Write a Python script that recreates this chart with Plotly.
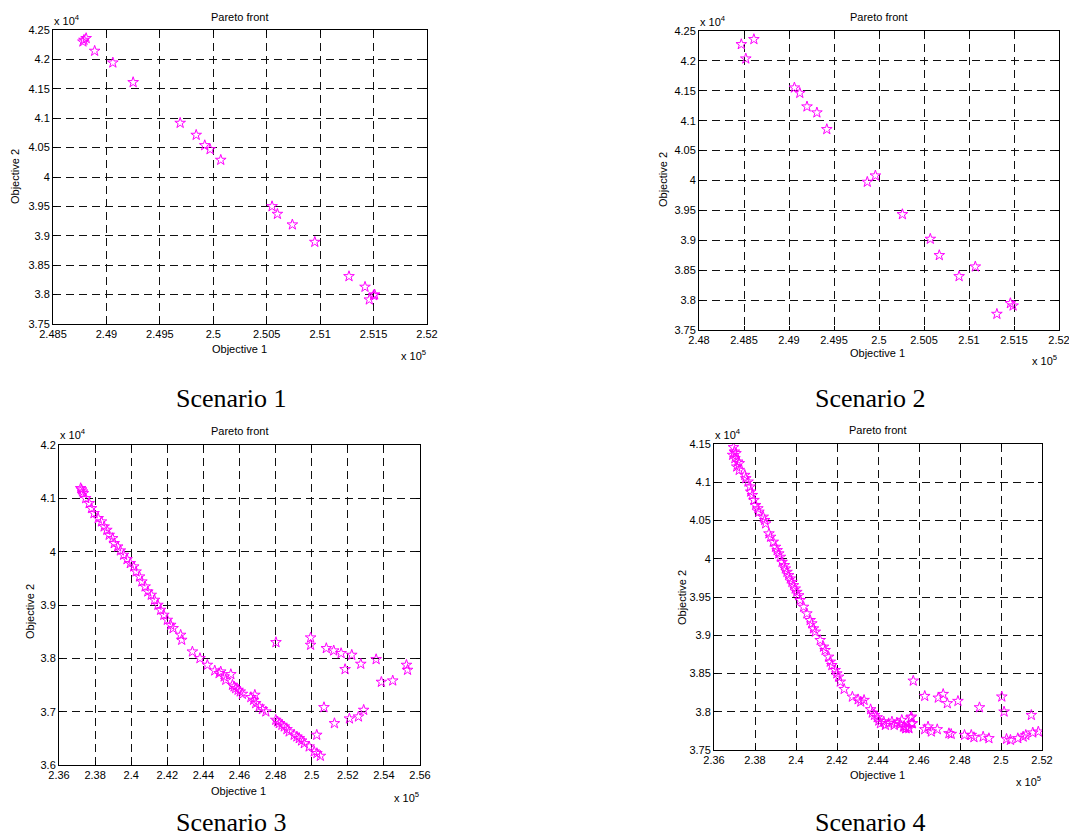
import plotly.graph_objects as go

W, H = 1069, 838

# ---------------- data (Objective 1 in x10^5, Objective 2 in x10^4) ----------------
s1_obj1 = [2.4878, 2.4881, 2.4879, 2.4889, 2.4906, 2.4925, 2.4969, 2.4984, 2.4992, 2.4997,
           2.5007, 2.5055, 2.5060, 2.5074, 2.5095, 2.5127, 2.5142, 2.5146, 2.5150, 2.5151]
s1_obj2 = [4.2301, 4.2359, 4.2330, 4.2143, 4.1944, 4.1610, 4.0918, 4.0714, 4.0538, 4.0470,
           4.0289, 3.9500, 3.9370, 3.9190, 3.8894, 3.8310, 3.8130, 3.7914, 3.7987, 3.8000]

s2_obj1 = [2.4847, 2.4861, 2.4852, 2.4906, 2.4912, 2.4920, 2.4931, 2.4942, 2.4987, 2.4996,
           2.5026, 2.5057, 2.5067, 2.5089, 2.5107, 2.5131, 2.5146, 2.5149]
s2_obj2 = [4.2277, 4.2361, 4.2037, 4.1552, 4.1462, 4.1235, 4.1135, 4.0856, 3.9975, 4.0081,
           3.9434, 3.9022, 3.8749, 3.8397, 3.8559, 3.7767, 3.7946, 3.7906]

s3_obj1 = [2.3720, 2.3725, 2.3730, 2.3735, 2.3748, 2.3767, 2.3780, 2.3794, 2.3817, 2.3835,
           2.3850, 2.3865, 2.3878, 2.3897, 2.3906, 2.3925, 2.3940, 2.3958, 2.3977, 2.3995,
           2.4014, 2.4027, 2.4046, 2.4059, 2.4077, 2.4092, 2.4111, 2.4129, 2.4148, 2.4163,
           2.4181, 2.4200, 2.4219, 2.4232, 2.4274, 2.4280, 2.4339, 2.4381, 2.4422, 2.4463,
           2.4496, 2.4487, 2.4524, 2.4552, 2.4515, 2.4561, 2.4570, 2.4579, 2.4592, 2.4604,
           2.4616, 2.4663, 2.4685, 2.4678, 2.4690, 2.4709, 2.4727, 2.4746, 2.4801, 2.4811,
           2.4820, 2.4835, 2.4848, 2.4863, 2.4875, 2.4903, 2.4918, 2.4931, 2.4944, 2.4959,
           2.4986, 2.5014, 2.5029, 2.5048,
           2.4802, 2.4994, 2.4994, 2.5081, 2.5122, 2.5163, 2.5222, 2.5272, 2.5185, 2.5357,
           2.5386, 2.5449, 2.5525, 2.5531, 2.5068, 2.5126, 2.5209, 2.5259, 2.5288, 2.5028]
s3_obj2 = [4.1188, 4.1163, 4.1125, 4.1094, 4.1000, 4.0906, 4.0813, 4.0719, 4.0625, 4.0563,
           4.0469, 4.0406, 4.0313, 4.0250, 4.0156, 4.0094, 4.0019, 3.9938, 3.9856, 3.9781,
           3.9719, 3.9625, 3.9531, 3.9438, 3.9344, 3.9250, 3.9188, 3.9094, 3.9000, 3.8906,
           3.8813, 3.8719, 3.8625, 3.8563, 3.8438, 3.8344, 3.8125, 3.8000, 3.7875, 3.7769,
           3.7750, 3.7719, 3.7594, 3.7700, 3.7656, 3.7500, 3.7469, 3.7438, 3.7406, 3.7375,
           3.7331, 3.7269, 3.7313, 3.7219, 3.7156, 3.7094, 3.7044, 3.7000, 3.6844, 3.6813,
           3.6781, 3.6750, 3.6719, 3.6669, 3.6625, 3.6563, 3.6531, 3.6500, 3.6456, 3.6406,
           3.6344, 3.6250, 3.6219, 3.6169,
           3.8300, 3.8388, 3.8250, 3.8188, 3.8144, 3.8094, 3.8063, 3.7894, 3.7794, 3.7981,
           3.7556, 3.7581, 3.7875, 3.7781, 3.7081, 3.6781, 3.6869, 3.6906, 3.7031, 3.6563]

s4_obj1 = [2.3695, 2.3699, 2.3691, 2.3707, 2.3702, 2.3715, 2.3723, 2.3711, 2.3723, 2.3750,
           2.3755, 2.3766, 2.3776, 2.3779, 2.3787, 2.3795, 2.3803, 2.3814, 2.3819, 2.3840,
           2.3847, 2.3852, 2.3868, 2.3876, 2.3889, 2.3900, 2.3908, 2.3916, 2.3924, 2.3932,
           2.3943, 2.3948, 2.3956, 2.3964, 2.3972, 2.3980, 2.3988, 2.3996, 2.4004, 2.4013,
           2.4020, 2.4037, 2.4053, 2.4069, 2.4077, 2.4085, 2.4094, 2.4118, 2.4134, 2.4142,
           2.4159, 2.4167, 2.4175, 2.4191, 2.4199, 2.4208, 2.4216, 2.4235, 2.4275, 2.4303,
           2.4316, 2.4332, 2.4364, 2.4372, 2.4383, 2.4396, 2.4404, 2.4412, 2.4428, 2.4436,
           2.4452, 2.4468, 2.4479, 2.4492, 2.4508, 2.4516, 2.4528, 2.4537, 2.4549, 2.4560,
           2.4565, 2.4524, 2.4535, 2.4551, 2.4563, 2.4568, 2.4628, 2.4644, 2.4660, 2.4689,
           2.4746, 2.4757, 2.4822, 2.4855, 2.4868, 2.4913, 2.4941, 2.5027, 2.5046, 2.5082,
           2.5108, 2.5121, 2.5155, 2.5182,
           2.4572, 2.4628, 2.4694, 2.4718, 2.4738, 2.4790, 2.4895, 2.5004, 2.5015, 2.5148]
s4_obj2 = [4.1456, 4.1399, 4.1356, 4.1378, 4.1312, 4.1268, 4.1247, 4.1203, 4.1159, 4.1094,
           4.1050, 4.1006, 4.0941, 4.0875, 4.0831, 4.0766, 4.0700, 4.0657, 4.0613, 4.0547,
           4.0504, 4.0460, 4.0329, 4.0285, 4.0220, 4.0154, 4.0110, 4.0067, 4.0023, 3.9957,
           3.9914, 3.9870, 3.9826, 3.9783, 3.9739, 3.9695, 3.9652, 3.9608, 3.9564, 3.9520,
           3.9458, 3.9370, 3.9283, 3.9196, 3.9153, 3.9087, 3.9044, 3.8935, 3.8848, 3.8804,
           3.8717, 3.8652, 3.8608, 3.8543, 3.8499, 3.8456, 3.8391, 3.8295, 3.8195, 3.8160,
           3.8130, 3.8152, 3.8030, 3.7986, 3.7956, 3.7925, 3.7882, 3.7847, 3.7869, 3.7825,
           3.7847, 3.7869, 3.7825, 3.7856, 3.7838, 3.7891, 3.7804, 3.7782, 3.7795, 3.7921,
           3.7847, 3.7804, 3.7782, 3.7782, 3.7934, 3.7847, 3.7769, 3.7804, 3.7739, 3.7769,
           3.7717, 3.7708, 3.7695, 3.7695, 3.7665, 3.7673, 3.7652, 3.7643, 3.7630, 3.7652,
           3.7673, 3.7695, 3.7726, 3.7739,
           3.8404, 3.8204, 3.8182, 3.8230, 3.8109, 3.8139, 3.8056, 3.8196, 3.8000, 3.7956]

# tick labels
s1_xticks = ["2.485", "2.49", "2.495", "2.5", "2.505", "2.51", "2.515", "2.52"]
s2_xticks = ["2.48", "2.485", "2.49", "2.495", "2.5", "2.505", "2.51", "2.515", "2.52"]
s12_yticks = ["3.75", "3.8", "3.85", "3.9", "3.95", "4", "4.05", "4.1", "4.15", "4.2", "4.25"]
s3_xticks = ["2.36", "2.38", "2.4", "2.42", "2.44", "2.46", "2.48", "2.5", "2.52", "2.54", "2.56"]
s3_yticks = ["3.6", "3.7", "3.8", "3.9", "4", "4.1", "4.2"]
s4_xticks = ["2.36", "2.38", "2.4", "2.42", "2.44", "2.46", "2.48", "2.5", "2.52"]
s4_yticks = ["3.75", "3.8", "3.85", "3.9", "3.95", "4", "4.05", "4.1", "4.15"]
scenario_names = ["Scenario 1", "Scenario 2", "Scenario 3", "Scenario 4"]

# ---------------- layout helpers ----------------
def px_x(p):
    return p / W

def px_y(p):
    return 1 - p / H

panels = [
    (s1_obj1, s1_obj2, s1_xticks, s12_yticks, (53, 427, 30, 324)),
    (s2_obj1, s2_obj2, s2_xticks, s12_yticks, (699, 1059, 31, 330)),
    (s3_obj1, s3_obj2, s3_xticks, s3_yticks, (59, 420, 445, 765)),
    (s4_obj1, s4_obj2, s4_xticks, s4_yticks, (714, 1042, 444, 750)),
]

fig = go.Figure()
TICKFONT = dict(family="Liberation Sans, Arial", size=11, color="black")
MAGENTA = "#ff00ff"

for i, (xs, ys, xt, yt, (l, r, t, b)) in enumerate(panels):
    n = i + 1
    xa = "x" if n == 1 else f"x{n}"
    ya = "y" if n == 1 else f"y{n}"
    fig.add_trace(go.Scatter(
        x=xs, y=ys, mode="markers", xaxis=xa, yaxis=ya, showlegend=False,
        marker=dict(symbol="star-open", size=8, color=MAGENTA, line=dict(width=1, color=MAGENTA)),
    ))
    xv = [float(v) for v in xt]
    yv = [float(v) for v in yt]
    axcommon = dict(showline=True, linecolor="black", linewidth=1, mirror="allticks",
                    ticks="inside", ticklen=4, tickcolor="black", tickwidth=1,
                    showgrid=True, gridcolor="#111111", gridwidth=1, griddash="8px,5px",
                    zeroline=False, tickfont=TICKFONT, automargin=False,
                    ticklabeloverflow="allow")
    fig.layout[f"xaxis{'' if n == 1 else n}"] = dict(
        domain=[px_x(l), px_x(r)], range=[xv[0], xv[-1]], anchor=ya,
        tickvals=xv, ticktext=xt, **axcommon)
    fig.layout[f"yaxis{'' if n == 1 else n}"] = dict(
        domain=[px_y(b), px_y(t)], range=[yv[0], yv[-1]], anchor=xa,
        tickvals=yv, ticktext=yt, **axcommon)

AR = "Liberation Sans, Arial"
TNR = "Liberation Serif, Times New Roman"
# (text, x px, y px, xanchor, size, family, angle)
texts = [
    ("Pareto front", 239, 17, "center", 11, AR, 0),
    ("x 10<sup>4</sup>", 53, 20, "left", 11, AR, 0),
    ("Objective 1", 239, 349, "center", 11, AR, 0),
    ("x 10<sup>5</sup>", 427, 355, "right", 11, AR, 0),
    ("Objective 2", 15, 177, "center", 11, AR, -90),

    ("Pareto front", 878, 17, "center", 11, AR, 0),
    ("x 10<sup>4</sup>", 699, 21, "left", 11, AR, 0),
    ("Objective 1", 877, 353, "center", 11, AR, 0),
    ("x 10<sup>5</sup>", 1058, 360, "right", 11, AR, 0),
    ("Objective 2", 663, 180, "center", 11, AR, -90),

    ("Pareto front", 239, 431, "center", 11, AR, 0),
    ("x 10<sup>4</sup>", 59, 434, "left", 11, AR, 0),
    ("Objective 1", 238, 791, "center", 11, AR, 0),
    ("x 10<sup>5</sup>", 420, 797, "right", 11, AR, 0),
    ("Objective 2", 30, 612, "center", 11, AR, -90),

    ("Pareto front", 877, 430, "center", 11, AR, 0),
    ("x 10<sup>4</sup>", 714, 434, "left", 11, AR, 0),
    ("Objective 1", 877, 775, "center", 11, AR, 0),
    ("x 10<sup>5</sup>", 1042, 781, "right", 11, AR, 0),
    ("Objective 2", 682, 598, "center", 11, AR, -90),

    (scenario_names[0], 231, 399, "center", 26, TNR, 0),
    (scenario_names[1], 870, 399, "center", 26, TNR, 0),
    (scenario_names[2], 231, 822, "center", 26, TNR, 0),
    (scenario_names[3], 870, 822, "center", 26, TNR, 0),
]
for txt, x, y, xanc, size, fam, ang in texts:
    fig.add_annotation(text=txt, x=px_x(x), y=px_y(y), xref="paper", yref="paper",
                       xanchor=xanc, yanchor="middle", showarrow=False, textangle=ang,
                       borderpad=0, font=dict(family=fam, size=size, color="black"))

fig.update_layout(width=W, height=H, margin=dict(l=0, r=0, t=0, b=0),
                  paper_bgcolor="white", plot_bgcolor="white")

fig.write_html("out.html", config={"displayModeBar": False},
               post_script="document.body.style.margin='0px';")
